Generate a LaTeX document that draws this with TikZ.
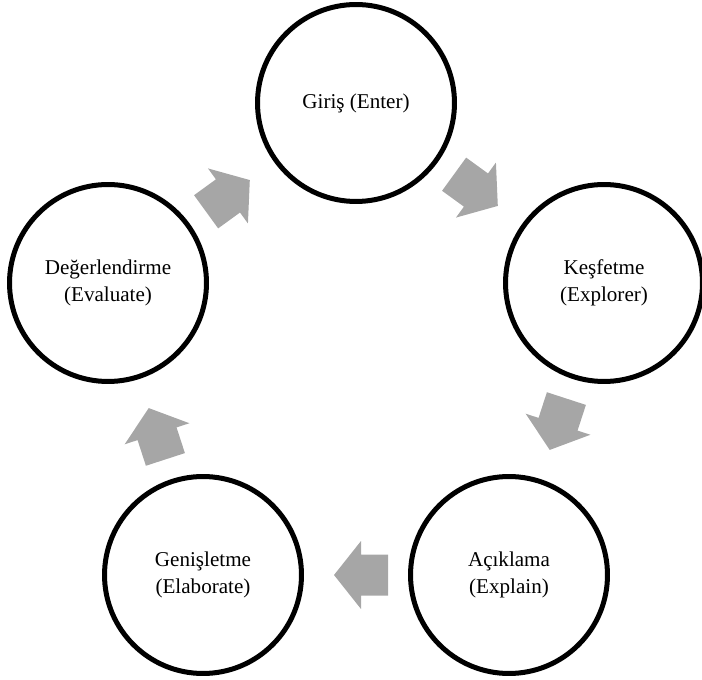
\documentclass[tikz,border=0pt]{standalone}
\usepackage{fontspec}
\setmainfont{Liberation Serif}
\usepackage{xcolor}

\definecolor{arrowgray}{RGB}{166,166,166}

\tikzset{
    stage/.style={shape=circle,draw=black,line width=0.1cm,minimum size=3.94cm,
        inner sep=0pt,align=center,font=\fontsize{12}{15.4}\selectfont},
    blockarrow/.pic={
        \fill[arrowgray] (-32,-20.5) -- (-5,-20.5) -- (-5,-34) -- (22,0)
            -- (-5,34) -- (-5,20.5) -- (-32,20.5) -- cycle;
    }
}

\begin{document}
\begin{tikzpicture}[x=0.02cm,y=0.02cm]
                    \useasboundingbox (0,0) rectangle (702,679);

                    % stages
                    \node[stage] (giris) at (356,576) {Giriş (Enter)};
                    \node[stage] (kesfet) at (604,396) {Keşfetme\\(Explorer)};
                    \node[stage] (acikla) at (509,104) {Açıklama\\(Explain)};
                    \node[stage] (genis) at (203,104) {Genişletme\\(Elaborate)};
                    \node[stage] (deger) at (108,396) {Değerlendirme\\(Evaluate)};

                    % arrows
                    \path (giris) -- (kesfet) pic[midway,sloped,allow upside down] {blockarrow};
                    \path (kesfet) -- (acikla) pic[midway,sloped,allow upside down] {blockarrow};
                    \path (acikla) -- (genis) pic[midway,sloped,allow upside down] {blockarrow};
                    \path (genis) -- (deger) pic[midway,sloped,allow upside down] {blockarrow};
                    \path (deger) -- (giris) pic[midway,sloped,allow upside down] {blockarrow};
                \end{tikzpicture}
\end{document}
